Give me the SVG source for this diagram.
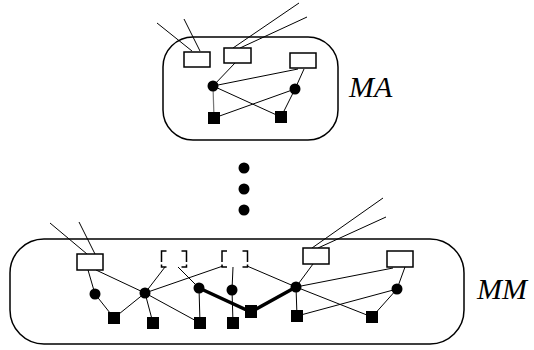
<svg xmlns="http://www.w3.org/2000/svg" width="534" height="350" viewBox="0 0 534 350">
<style>
.grp{fill:none;stroke:#000;stroke-width:1.5}
.box{fill:#fff;stroke:#000;stroke-width:1.5}
.br{fill:none;stroke:#000;stroke-width:1.5}
.e{stroke:#000;stroke-width:1;fill:none}
.thick{stroke:#000;stroke-width:3.5;fill:none}
.lbl{font-family:"Liberation Serif",serif;font-style:italic;font-size:30px;fill:#000}
</style>
<rect width="534" height="350" fill="#fff"/>
<g id="connectors">
<!-- MA -->
<line class="e" x1="157" y1="23" x2="192" y2="51"/>
<line class="e" x1="184" y1="19" x2="200" y2="51"/>
<line class="e" x1="299" y1="3" x2="233" y2="48"/>
<line class="e" x1="307" y1="17" x2="240" y2="48"/>
<line class="e" x1="235" y1="63" x2="213" y2="86"/>
<line class="e" x1="213" y1="86" x2="298" y2="69"/>
<line class="e" x1="304" y1="69" x2="295" y2="89"/>
<line x1="213" y1="86" x2="214" y2="118" stroke="#777" stroke-width="1.2"/>
<line class="e" x1="213" y1="86" x2="281" y2="117"/>
<line class="e" x1="214" y1="118" x2="295" y2="89"/>
<line class="e" x1="295" y1="89" x2="281" y2="117"/>
<!-- MM -->
<line class="e" x1="50" y1="223" x2="87" y2="254"/>
<line class="e" x1="79" y1="222" x2="95" y2="254"/>
<line class="e" x1="88" y1="270" x2="95" y2="294"/>
<line class="e" x1="96" y1="270" x2="145" y2="293"/>
<line class="e" x1="95" y1="294" x2="114" y2="318"/>
<line class="e" x1="114" y1="318" x2="145" y2="293"/>
<line class="e" x1="145" y1="293" x2="165" y2="267"/>
<line class="e" x1="145" y1="293" x2="223" y2="266"/>
<line class="e" x1="145" y1="293" x2="153" y2="323"/>
<line class="e" x1="145" y1="293" x2="200" y2="323"/>
<line class="e" x1="178" y1="267" x2="199" y2="288"/>
<line class="e" x1="199" y1="288" x2="200" y2="323"/>
<line class="e" x1="233" y1="267" x2="232" y2="290"/>
<line class="e" x1="232" y1="290" x2="233" y2="323"/>
<line class="e" x1="247" y1="266" x2="296" y2="287"/>
<line class="e" x1="296" y1="287" x2="313" y2="264"/>
<line class="e" x1="312" y1="248" x2="383" y2="198"/>
<line class="e" x1="318" y1="248" x2="386" y2="217"/>
<line class="e" x1="296" y1="287" x2="393" y2="268"/>
<line class="e" x1="405" y1="267" x2="397" y2="289"/>
<line class="e" x1="297" y1="316" x2="397" y2="289"/>
<line class="e" x1="296" y1="287" x2="372" y2="317"/>
<line class="e" x1="397" y1="289" x2="372" y2="317"/>
<line class="e" x1="296" y1="287" x2="297" y2="316"/>
<polyline class="thick" points="199,288 251,312 296,287"/>
</g>
<g id="MA">
<rect class="grp" x="163" y="37" width="175" height="103" rx="30"/>
<text class="lbl" x="349" y="97">MA</text>
</g>
<g id="MA-box1"><rect class="box" x="184" y="52" width="26" height="15"/></g>
<g id="MA-box2"><rect class="box" x="224" y="48" width="27" height="15"/></g>
<g id="MA-box3"><rect class="box" x="290" y="53" width="26" height="15"/></g>
<g id="MA-c1"><circle cx="213" cy="86" r="5.5"/></g>
<g id="MA-c2"><circle cx="295" cy="89" r="5.5"/></g>
<g id="MA-s1"><rect x="208" y="112" width="12" height="12"/></g>
<g id="MA-s2"><rect x="275" y="111" width="12" height="12"/></g>
<g id="dots">
<circle cx="244" cy="168" r="5.5"/>
<circle cx="244" cy="189" r="5.5"/>
<circle cx="244" cy="210" r="5.5"/>
</g>
<g id="MM">
<rect class="grp" x="10" y="239" width="454" height="105" rx="34"/>
<text class="lbl" x="477" y="299">MM</text>
</g>
<g id="MM-boxA"><rect class="box" x="77" y="254" width="26" height="16"/></g>
<g id="MM-boxB">
<path class="br" d="M166.5,251 H161.5 V262 M161.5,264.5 V267 H166.5"/>
<path class="br" d="M181.5,251 H186.5 V262 M186.5,264.5 V267 H181.5"/>
</g>
<g id="MM-boxC">
<path class="br" d="M227,251 H222 V262 M222,264.5 V267 H227"/>
<path class="br" d="M242.5,251 H247.5 V262 M247.5,264.5 V267 H242.5"/>
</g>
<g id="MM-boxD"><rect class="box" x="303" y="248" width="26" height="16"/></g>
<g id="MM-boxE"><rect class="box" x="387" y="251" width="26" height="16"/></g>
<g id="MM-c1"><circle cx="95" cy="294" r="5.5"/></g>
<g id="MM-c2"><circle cx="145" cy="293" r="5.5"/></g>
<g id="MM-c3"><circle cx="199" cy="288" r="5.5"/></g>
<g id="MM-c4"><circle cx="232" cy="290" r="5.5"/></g>
<g id="MM-c5"><circle cx="296" cy="287" r="5.5"/></g>
<g id="MM-c6"><circle cx="397" cy="289" r="5.5"/></g>
<g id="MM-s1"><rect x="108" y="312" width="12" height="12"/></g>
<g id="MM-s2"><rect x="147" y="317" width="12" height="12"/></g>
<g id="MM-s3"><rect x="194" y="317" width="12" height="12"/></g>
<g id="MM-s4"><rect x="227" y="317" width="12" height="12"/></g>
<g id="MM-s5"><rect x="245" y="305" width="12" height="13"/></g>
<g id="MM-s6"><rect x="291" y="310" width="12" height="12"/></g>
<g id="MM-s7"><rect x="366" y="311" width="12" height="12"/></g>
</svg>
